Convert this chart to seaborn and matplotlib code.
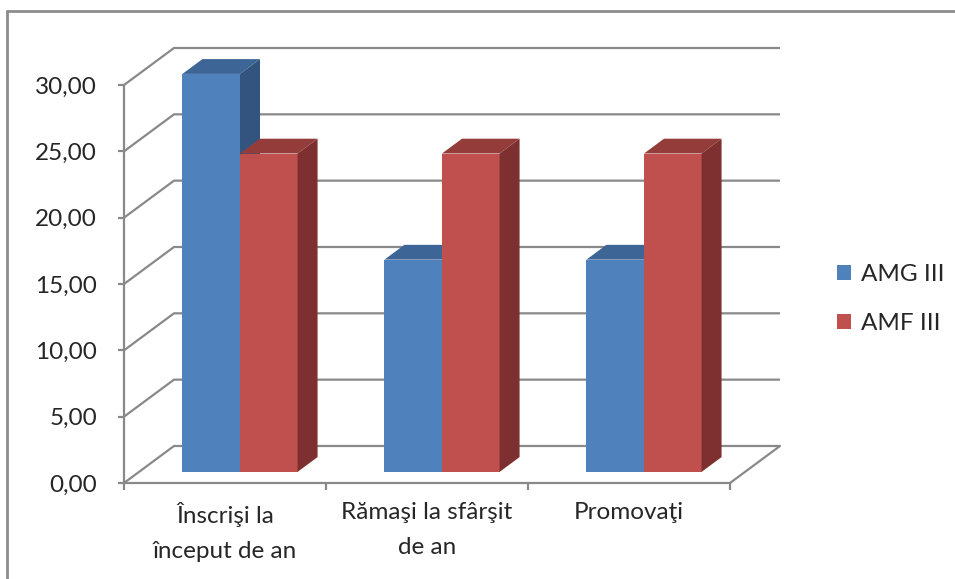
import pandas as pd
import matplotlib.pyplot as plt
import seaborn as sns
import matplotlib.ticker as mtick
from matplotlib.patches import Polygon, Patch
from matplotlib.lines import Line2D

# Data
categories = ["Înscrişi la\nînceput de an", "Rămaşi la sfârşit\nde an", "Promovaţi"]
series = ["AMG III", "AMF III"]
amg_values = [30, 16, 16]
amf_values = [24, 24, 24]
y_ticks = [0, 5, 10, 15, 20, 25, 30]

front_colors = ["#4F81BD", "#C0504D"]
top_colors = ["#3D6596", "#943C3A"]
side_colors = ["#33547E", "#7D302F"]

df = pd.DataFrame({
    "category": categories * 2,
    "series": [series[0]] * len(categories) + [series[1]] * len(categories),
    "value": amg_values + amf_values,
})

sns.set_theme(style="white")
plt.rcParams["font.family"] = ["Lato", "DejaVu Sans"]

# depth of the fake 3d box, in data units
depth_x, depth_y = 0.2475, 2.79
bar_front, bar_back = 0.30, 0.70
grid_color = "#898989"
font_size = 17.5
n = len(categories)

fig = plt.figure(figsize=(9.55, 5.79), dpi=100)
ax = fig.add_axes([124 / 955, 96 / 579, 656 / 955, 435 / 579])

sns.barplot(data=df, x="category", y="value", hue="series", palette=front_colors,
            width=0.57, saturation=1, errorbar=None, legend=False, ax=ax)

ax.set_xlim(-0.5, n - 0.5 + depth_x)
ax.set_ylim(0, y_ticks[-1] + depth_y)

# Turn flat bars into boxes: shift front face back, add top and side
fx, fy = bar_front * depth_x, bar_front * depth_y
bx, by = (bar_back - bar_front) * depth_x, (bar_back - bar_front) * depth_y
for i, bar in enumerate(list(ax.patches)):
    k = i // n
    x0, w, h = bar.get_x() + fx, bar.get_width(), bar.get_height()
    y0 = fy
    bar.set_x(x0)
    bar.set_y(y0)
    bar.set_edgecolor("none")
    bar.set_zorder(3 + x0)
    top = Polygon([(x0, y0 + h), (x0 + w, y0 + h), (x0 + w + bx, y0 + h + by), (x0 + bx, y0 + h + by)],
                  closed=True, facecolor=top_colors[k], edgecolor="none", zorder=3 + x0)
    side = Polygon([(x0 + w, y0), (x0 + w + bx, y0 + by), (x0 + w + bx, y0 + h + by), (x0 + w, y0 + h)],
                   closed=True, facecolor=side_colors[k], edgecolor="none", zorder=3 + x0)
    ax.add_patch(top)
    ax.add_patch(side)

# Walls / gridlines
for v in y_ticks:
    ax.plot([-0.5, -0.5 + depth_x, n - 0.5 + depth_x], [v, v + depth_y, v + depth_y],
            color=grid_color, lw=1.6, zorder=1, clip_on=False, solid_capstyle="butt")
ax.plot([n - 0.5, n - 0.5 + depth_x], [0, depth_y], color=grid_color, lw=1.6, zorder=1, clip_on=False)

for side_name in ["top", "right"]:
    ax.spines[side_name].set_visible(False)
for side_name in ["left", "bottom"]:
    ax.spines[side_name].set_color(grid_color)
    ax.spines[side_name].set_linewidth(1.6)
ax.spines["left"].set_bounds(0, y_ticks[-1])
ax.spines["bottom"].set_bounds(-0.5, n - 0.5)

# Ticks
ax.set_yticks(y_ticks)
ax.yaxis.set_major_formatter(mtick.FuncFormatter(lambda v, _: f"{v:.2f}".replace(".", ",")))
ax.tick_params(axis="y", left=True, length=4.5, width=1.6, color=grid_color, pad=15, labelsize=font_size)
ax.set_xticks([i - 0.5 for i in range(n + 1)], [""] * (n + 1))
ax.tick_params(axis="x", which="major", bottom=True, length=5, width=1.6, color=grid_color)
ax.set_xlabel("")
ax.set_ylabel("")

# Category labels (two-line, wider spacing than tick labels allow)
for i, cat in enumerate(categories):
    ax.annotate(cat, xy=(i, 0), xycoords=("data", "axes fraction"), xytext=(0, -14),
                textcoords="offset points", ha="center", va="top", fontsize=font_size,
                linespacing=1.8, annotation_clip=False)

# Legend
handles = [Patch(facecolor=c, edgecolor="none", label=s) for c, s in zip(front_colors, series)]
fig.legend(handles=handles, loc="center left", bbox_to_anchor=(815 / 955, 1 - 299 / 579),
           frameon=False, fontsize=font_size, handlelength=0.6, handleheight=0.6,
           handletextpad=0.4, labelspacing=1.15)

# Outer chart border (left and top only)
fig.add_artist(Line2D([7 / 955, 7 / 955], [0, 1 - 11 / 579], transform=fig.transFigure, color="#8c8c8c", lw=2))
fig.add_artist(Line2D([7 / 955, 1], [1 - 11 / 579, 1 - 11 / 579], transform=fig.transFigure, color="#8c8c8c", lw=2))

fig.savefig("out.png", dpi=100)
